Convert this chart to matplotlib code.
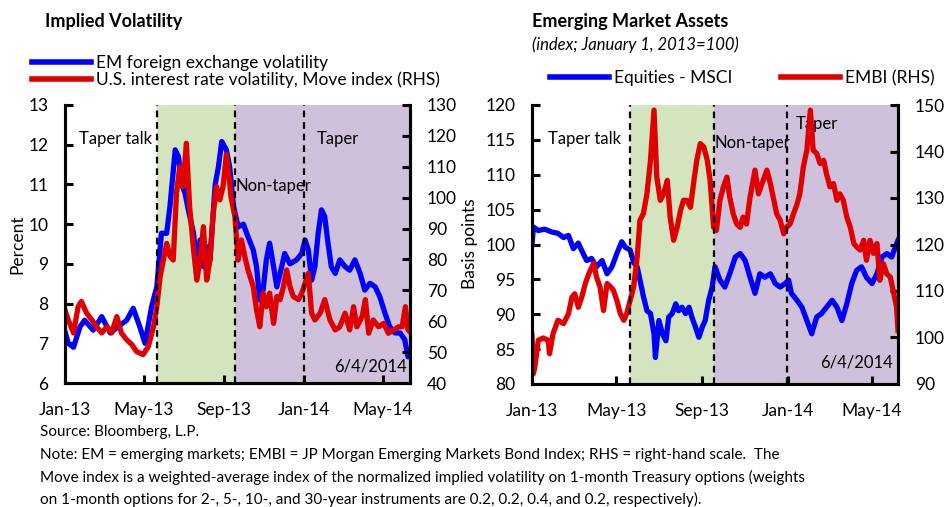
import matplotlib
matplotlib.use("Agg")
import matplotlib.pyplot as plt
import matplotlib.dates as mdates
from matplotlib.lines import Line2D
import numpy as np

plt.rcParams['font.family'] = ['Lato', 'DejaVu Sans']

BASE = np.datetime64('2013-01-01')

# --- Implied volatility (days since Jan 1, 2013) ---
em_fx_days = [0, 5, 13, 23, 30, 43, 56, 69, 81, 94, 104, 114, 122, 132, 140, 147, 155, 160,
              168, 173, 178, 183, 188, 196, 201, 206, 211, 216, 221, 229, 234, 239, 246, 251,
              257, 264, 272, 279, 287, 292, 297, 302, 307, 312, 318, 323, 328, 335, 343, 353,
              361, 366, 371, 376, 381, 386, 391, 396, 401, 406, 412, 419, 427, 434, 442, 450,
              457, 465, 473, 480, 488, 495, 503, 511, 518, 523, 526]
em_fx_vol = [7.3, 7.0, 6.9, 7.42, 7.58, 7.33, 7.67, 7.26, 7.42, 7.58, 7.88, 7.42, 7.0, 7.92,
             8.42, 9.77, 9.77, 10.44, 11.87, 11.7, 11.0, 10.78, 10.36, 9.77, 8.93, 9.6, 8.93,
             9.43, 9.1, 11.0, 11.45, 12.08, 11.87, 11.45, 10.44, 9.93, 10.0, 9.68, 9.35, 8.93,
             8.09, 8.34, 9.1, 9.52, 8.93, 8.42, 8.76, 9.26, 9.0, 9.1, 9.26, 9.6, 9.35, 8.59,
             8.93, 9.77, 10.36, 10.19, 9.52, 8.93, 8.76, 9.1, 8.93, 8.84, 9.1, 8.76, 8.34, 8.51,
             8.42, 8.17, 7.75, 7.42, 7.26, 7.26, 7.09, 6.66, 6.7]

move_days = [0, 5, 13, 20, 25, 33, 41, 48, 56, 64, 71, 79, 86, 94, 102, 109, 119, 127, 135,
             140, 145, 150, 155, 160, 165, 170, 175, 180, 185, 190, 196, 201, 206, 211, 216,
             221, 226, 231, 236, 241, 246, 251, 253, 259, 264, 269, 274, 279, 287, 292, 297,
             302, 307, 312, 318, 323, 328, 333, 338, 343, 348, 356, 361, 366, 371, 376, 381,
             389, 396, 404, 412, 419, 427, 434, 440, 445, 453, 458, 463, 470, 478, 486, 493,
             501, 509, 514, 519, 523, 526]
move_index = [63.7, 60.4, 56.2, 64.7, 66.4, 62.6, 60.4, 58.2, 56.2, 58.2, 56.2, 61.5, 56.2,
              54.0, 52.4, 50.2, 49.2, 51.8, 58.2, 64.7, 74.4, 79.8, 85.2, 81.1, 79.8, 101.4,
              110.0, 103.6, 117.6, 97.1, 83.1, 73.3, 79.8, 90.6, 73.3, 79.8, 95.0, 103.6, 99.3,
              103.6, 114.0, 105.0, 100.3, 93.9, 79.8, 86.3, 81.1, 76.6, 71.2, 63.7, 58.2, 69.1,
              64.7, 69.1, 59.3, 68.0, 67.0, 71.2, 76.6, 71.2, 68.0, 67.0, 69.1, 72.3, 75.5,
              62.6, 60.4, 62.6, 67.0, 60.4, 57.2, 58.2, 62.6, 57.2, 64.7, 58.2, 61.5, 67.0,
              56.1, 60.4, 58.2, 59.3, 56.1, 57.2, 58.2, 58.2, 64.7, 57.2, 56.5]

# --- Emerging market assets (index; Jan 1, 2013 = 100) ---
msci_days = [0, 2, 9, 18, 28, 37, 45, 52, 59, 66, 73, 78, 85, 92, 100, 107, 114, 121, 128,
             133, 140, 145, 150, 154, 159, 164, 169, 174, 176, 181, 186, 191, 195, 200, 205,
             209, 214, 219, 224, 228, 233, 238, 243, 247, 252, 257, 261, 268, 275, 282, 290,
             297, 304, 311, 318, 325, 332, 340, 347, 354, 361, 366, 370, 378, 385, 392, 399,
             406, 413, 420, 428, 435, 442, 449, 456, 463, 470, 477, 485, 492, 499, 506, 513,
             520, 522]
msci_equities = [100.0, 102.5, 102.0, 102.2, 101.8, 101.6, 101.0, 101.3, 99.4, 100.2, 98.7,
                 97.7, 98.0, 96.8, 97.7, 95.8, 96.8, 98.7, 100.4, 99.6, 99.2, 97.4, 96.8, 94.9,
                 92.5, 90.5, 90.1, 87.2, 83.8, 89.1, 87.2, 86.2, 89.6, 90.1, 91.5, 90.5, 91.0,
                 90.1, 91.0, 89.6, 88.2, 86.7, 88.2, 89.1, 92.0, 93.9, 96.8, 94.9, 93.9, 95.8,
                 98.2, 98.7, 97.7, 95.3, 93.0, 95.8, 95.3, 95.8, 94.4, 93.9, 94.4, 94.9, 93.0,
                 92.0, 91.0, 89.1, 87.2, 89.6, 90.1, 91.0, 92.0, 91.0, 89.1, 91.5, 94.4, 96.3,
                 96.8, 95.3, 94.4, 95.8, 98.2, 98.7, 98.2, 100.1, 100.6]

embi_days = [0, 2, 4, 9, 16, 23, 25, 30, 37, 45, 52, 57, 61, 66, 71, 76, 81, 88, 92, 97, 102,
             107, 112, 116, 121, 126, 131, 135, 140, 145, 150, 154, 159, 164, 169, 174, 178,
             183, 188, 193, 197, 202, 207, 212, 216, 221, 226, 231, 235, 240, 245, 250, 254,
             259, 263, 268, 273, 278, 282, 287, 292, 297, 301, 306, 311, 318, 323, 328, 335,
             340, 344, 349, 354, 359, 363, 368, 373, 378, 382, 387, 392, 397, 401, 406, 411,
             416, 420, 425, 430, 435, 439, 444, 449, 454, 459, 463, 468, 473, 477, 482, 487,
             492, 496, 501, 506, 511, 515, 520, 522]
embi_index = [100.5, 92.2, 93.6, 99.4, 99.9, 99.4, 96.5, 100.8, 103.7, 103.0, 105.1, 108.7,
              109.4, 106.5, 108.7, 111.6, 113.7, 116.0, 113.0, 110.9, 105.8, 111.6, 110.9,
              110.2, 108.0, 105.1, 103.7, 105.1, 108.0, 110.9, 117.3, 125.2, 126.7, 131.0,
              138.1, 148.9, 134.5, 129.5, 131.0, 133.8, 125.9, 120.9, 123.7, 127.4, 129.5,
              129.5, 128.0, 133.8, 138.1, 141.7, 141.0, 138.1, 133.8, 123.7, 123.0, 129.5,
              132.4, 134.5, 130.2, 126.6, 124.4, 123.7, 125.9, 124.4, 130.2, 136.0, 130.9,
              133.1, 136.0, 133.1, 130.2, 126.6, 125.2, 122.3, 123.7, 124.4, 126.6, 128.7,
              130.9, 136.7, 140.3, 148.9, 140.3, 139.6, 137.4, 138.1, 135.2, 132.4, 133.1,
              129.5, 130.9, 129.5, 125.9, 123.7, 120.2, 119.5, 118.8, 120.9, 116.6, 120.9,
              118.1, 120.2, 112.3, 115.9, 113.7, 113.0, 110.2, 106.5, 101.5]

# event dates: taper talk, non-taper, taper
event_days = [140, 259, 364]
period_labels = ['Taper talk', 'Non-taper', 'Taper']

BLUE = '#0000FF'
RED = '#E00000'
GREEN_BG = '#D3E4BF'
PURPLE_BG = '#CFC1DC'
LW = 3.8


def to_dates(days):
    return BASE + np.array(days).astype('timedelta64[D]')


def style_axis(ax, axr, end_day):
    ax.set_xlim(to_dates([0])[0], to_dates([end_day])[0])
    ax.xaxis.set_major_locator(mdates.MonthLocator(bymonth=[1, 5, 9]))
    ax.xaxis.set_major_formatter(mdates.DateFormatter('%b-%y'))
    for a in (ax, axr):
        a.spines['top'].set_visible(False)
        for s in ('left', 'right', 'bottom'):
            a.spines[s].set_linewidth(2.2)
        a.tick_params(direction='in', length=6, width=2.2, labelsize=12.5)
    ax.tick_params(axis='y', pad=12)
    ax.tick_params(axis='x', pad=14)
    axr.tick_params(axis='y', pad=12)
    ev = to_dates(event_days)
    ax.axvspan(ev[0], ev[1], color=GREEN_BG, lw=0, zorder=0)
    ax.axvspan(ev[1], to_dates([end_day])[0], color=PURPLE_BG, lw=0, zorder=0)
    for d in ev:
        axr.axvline(d, color='black', ls=(0, (3, 2.2)), lw=1.6, zorder=5)


fig = plt.figure(figsize=(9.48, 5.07), dpi=100)

# ---------------- left panel ----------------
ax1 = fig.add_axes([65 / 948, 124 / 507, 345 / 948, 278 / 507])
ax1r = ax1.twinx()
ax1.plot(to_dates(em_fx_days), em_fx_vol, color=BLUE, lw=LW, solid_joinstyle='round')
ax1r.plot(to_dates(move_days), move_index, color=RED, lw=LW, solid_joinstyle='round')
ax1.set_ylim(6, 13)
ax1r.set_ylim(40, 130)
ax1.set_yticks(range(6, 14))
ax1r.set_yticks(range(40, 131, 10))
style_axis(ax1, ax1r, 526)
ax1.set_ylabel('Percent', fontsize=12.5, labelpad=2)
ax1r.set_ylabel('Basis points', fontsize=12.5, labelpad=4)
ax1.text(0.04, 0.86, period_labels[0], transform=ax1.transAxes, fontsize=12)
ax1.text(0.495, 0.69, period_labels[1], transform=ax1.transAxes, fontsize=12)
ax1.text(0.73, 0.86, period_labels[2], transform=ax1.transAxes, fontsize=12)
ax1.text(0.99, 0.04, '6/4/2014', transform=ax1.transAxes, fontsize=12, ha='right')

fig.text(45 / 948, 1 - 22 / 507, 'Implied Volatility', fontsize=13, fontweight='bold', va='center')
fig.legend([Line2D([], [], color=BLUE, lw=4), Line2D([], [], color=RED, lw=4)],
           ['EM foreign exchange volatility', 'U.S. interest rate volatility, Move index (RHS)'],
           loc='upper left', bbox_to_anchor=(32 / 948, 1 - 55 / 507), frameon=False,
           fontsize=12.5, handlelength=3.4, handletextpad=0.3, labelspacing=0.05,
           borderaxespad=0, borderpad=0)

# ---------------- right panel ----------------
ax2 = fig.add_axes([532 / 948, 123 / 507, 366 / 948, 279 / 507])
ax2r = ax2.twinx()
ax2.plot(to_dates(msci_days), msci_equities, color=BLUE, lw=LW, solid_joinstyle='round')
ax2r.plot(to_dates(embi_days), embi_index, color=RED, lw=LW, solid_joinstyle='round')
ax2.set_ylim(80, 120)
ax2r.set_ylim(90, 150)
ax2.set_yticks(range(80, 121, 5))
ax2r.set_yticks(range(90, 151, 10))
style_axis(ax2, ax2r, 522)
ax2.text(0.045, 0.86, period_labels[0], transform=ax2.transAxes, fontsize=12)
ax2.text(0.5, 0.845, period_labels[1], transform=ax2.transAxes, fontsize=12)
ax2.text(0.72, 0.915, period_labels[2], transform=ax2.transAxes, fontsize=12)
ax2.text(0.985, 0.06, '6/4/2014', transform=ax2.transAxes, fontsize=12, ha='right')

fig.text(532 / 948, 1 - 22 / 507, 'Emerging Market Assets', fontsize=13, fontweight='bold', va='center')
fig.text(532 / 948, 1 - 45 / 507, '(index; January 1, 2013=100)', fontsize=12, style='italic', va='center')
fig.legend([Line2D([], [], color=BLUE, lw=4), Line2D([], [], color=RED, lw=4)],
           ['Equities - MSCI', 'EMBI (RHS)'], ncol=2,
           loc='upper left', bbox_to_anchor=(550 / 948, 1 - 70 / 507), frameon=False,
           fontsize=12.5, handlelength=3.4, handletextpad=0.3, columnspacing=2.8,
           borderaxespad=0, borderpad=0)

# ---------------- footnotes ----------------
notes = ['Source: Bloomberg, L.P.',
         'Note: EM = emerging markets; EMBI = JP Morgan Emerging Markets Bond Index; RHS = right-hand scale.  The',
         'Move index is a weighted-average index of the normalized implied volatility on 1-month Treasury options (weights',
         'on 1-month options for 2-, 5-, 10-, and 30-year instruments are 0.2, 0.2, 0.4, and 0.2, respectively).']
note_y = [432, 455, 477, 499]
for txt, y in zip(notes, note_y):
    fig.text(40 / 948, 1 - y / 507, txt, fontsize=11, va='center')

fig.savefig('out.png', dpi=100)
